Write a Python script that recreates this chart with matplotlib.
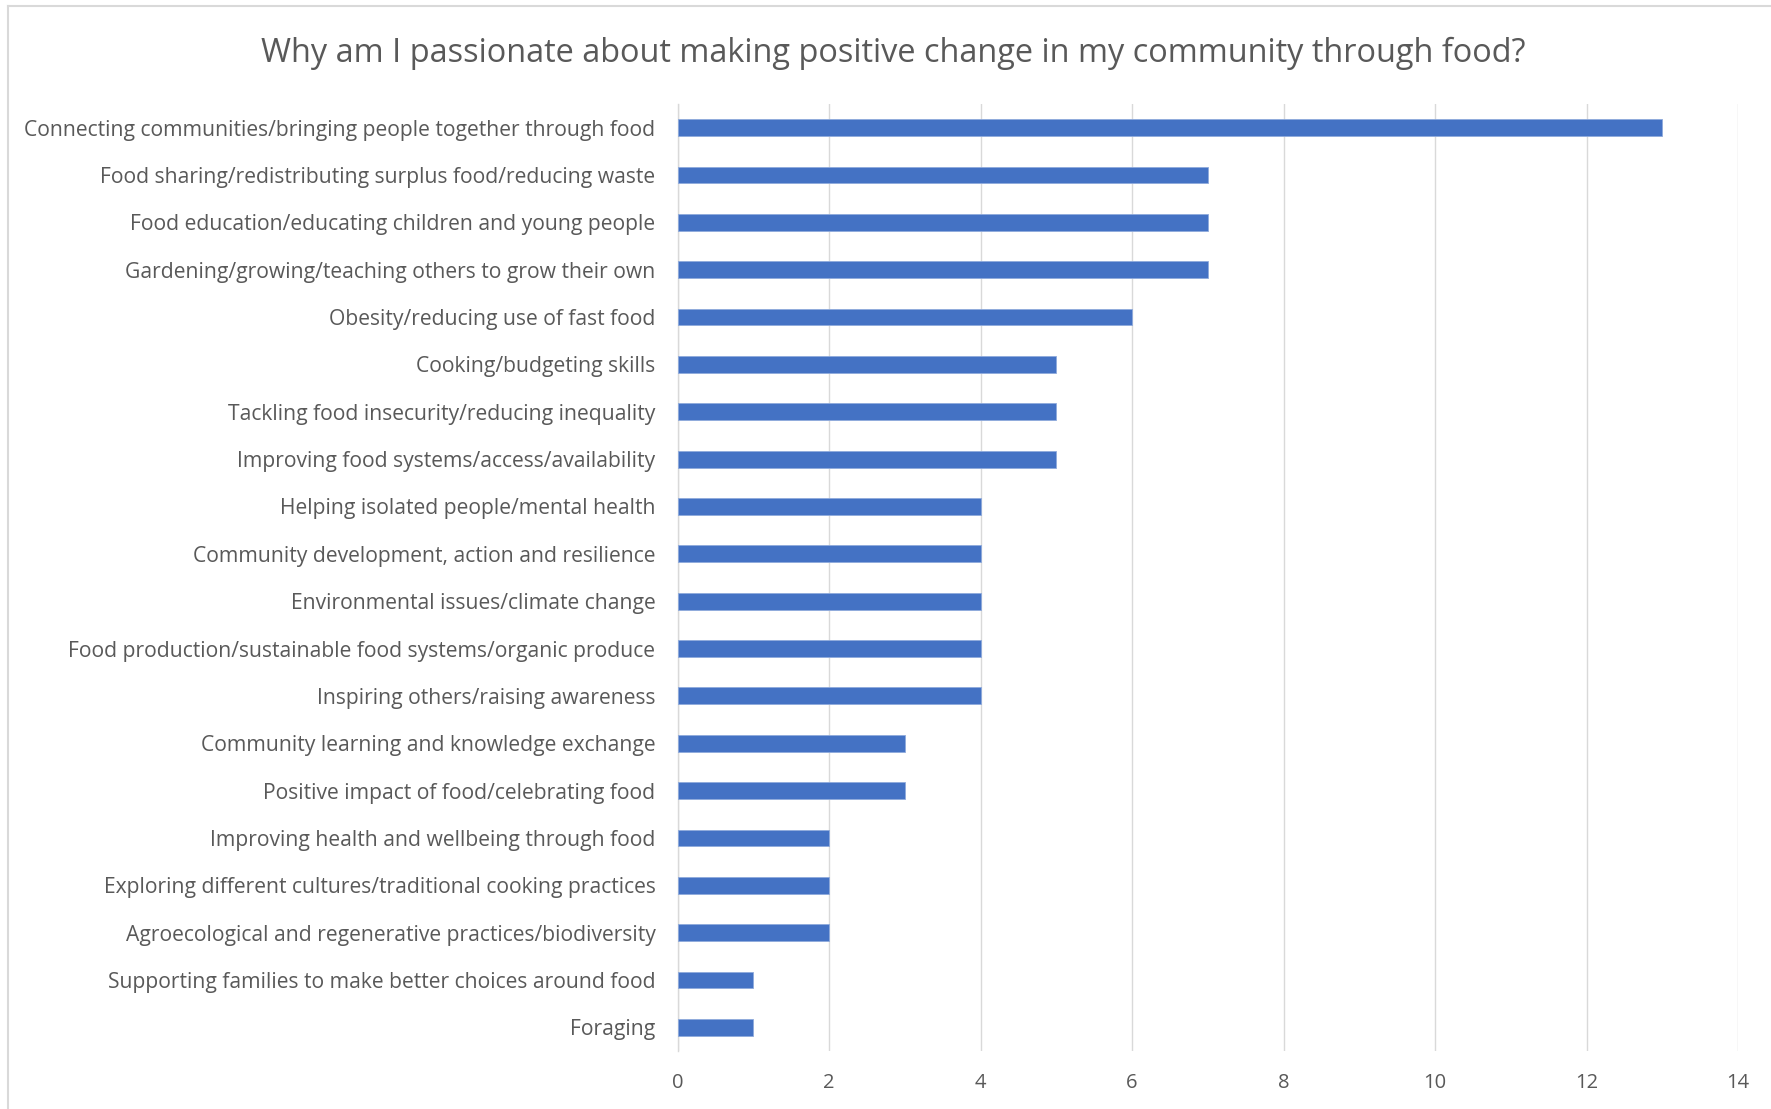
import matplotlib.pyplot as plt
import numpy as np

categories = [
    'Connecting communities/bringing people together through food',
    'Food sharing/redistributing surplus food/reducing waste',
    'Food education/educating children and young people',
    'Gardening/growing/teaching others to grow their own',
    'Obesity/reducing use of fast food',
    'Cooking/budgeting skills',
    'Tackling food insecurity/reducing inequality',
    'Improving food systems/access/availability',
    'Helping isolated people/mental health',
    'Community development, action and resilience',
    'Environmental issues/climate change',
    'Food production/sustainable food systems/organic produce',
    'Inspiring others/raising awareness',
    'Community learning and knowledge exchange',
    'Positive impact of food/celebrating food',
    'Improving health and wellbeing through food',
    'Exploring different cultures/traditional cooking practices',
    'Agroecological and regenerative practices/biodiversity',
    'Supporting families to make better choices around food',
    'Foraging',
]
counts = [13, 7, 7, 7, 6, 5, 5, 5, 4, 4, 4, 4, 4, 3, 3, 2, 2, 2, 1, 1]
xticks = [0, 2, 4, 6, 8, 10, 12, 14]

W, H = 1771, 1109
txt = '#595959'
grid = '#d9d9d9'
plt.rcParams['font.family'] = ['Open Sans', 'DejaVu Sans']

fig = plt.figure(figsize=(W / 100, H / 100), dpi=100)
ax = fig.add_axes([677.7 / W, 1 - 1051 / H, (1738 - 677.7) / W, (1051 - 104) / H])

y = np.arange(len(categories))
ax.barh(y, counts, height=0.354, color='#4472C4', edgecolor='#8faadc', linewidth=0.6, zorder=3)
ax.set_ylim(len(categories) - 0.5, -0.5)
ax.set_xlim(0, 14)
ax.set_yticks(y)
ax.set_yticklabels(categories)
ax.set_xticks(xticks)
ax.set_xticklabels([str(t) for t in xticks])

ax.xaxis.grid(True, color=grid, linewidth=1.0, zorder=0)
for s in ['top', 'right', 'bottom']:
    ax.spines[s].set_visible(False)
ax.spines['left'].set_color(grid)
ax.spines['left'].set_linewidth(1.0)
ax.tick_params(axis='y', length=0, pad=16, labelsize=15.2, labelcolor=txt)
ax.tick_params(axis='x', length=0, pad=16, labelsize=14.5, labelcolor=txt)

fig.text(893.5 / W, 1 - 62 / H, 'Why am I passionate about making positive change in my community through food?',
         ha='center', va='baseline', fontsize=23.4, color=txt)

# chart area border (only top and left visible in the crop)
fig.add_artist(plt.Line2D([8 / W, 1], [1 - 5.5 / H, 1 - 5.5 / H], color=grid, linewidth=1.5, transform=fig.transFigure))
fig.add_artist(plt.Line2D([8 / W, 8 / W], [0, 1 - 5.5 / H], color=grid, linewidth=1.5, transform=fig.transFigure))

fig.savefig('out.png', dpi=100)
